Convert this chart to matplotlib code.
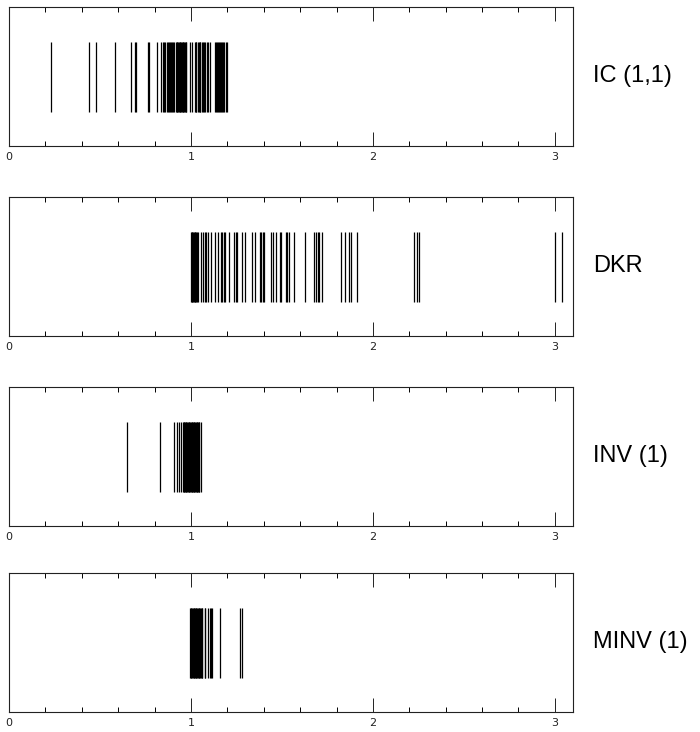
"""
Eigenvalue spectra of the preconditioned matrices, drawn as one strip per method.
"""

import matplotlib.pyplot as plt
from matplotlib.ticker import MultipleLocator

# eigenvalue positions
ic_vals = [0.232, 0.441, 0.476, 0.585, 0.671, 0.690, 0.700, 0.762, 0.770, 0.812,
           0.838, 0.845, 0.852, 0.858, 0.866, 0.872, 0.878, 0.884, 0.890, 0.896,
           0.902, 0.908, 0.918, 0.922, 0.926, 0.930, 0.934, 0.938, 0.942, 0.946,
           0.950, 0.954, 0.958, 0.962, 0.966, 0.970, 0.974, 0.994, 1.006, 1.020,
           1.025, 1.030, 1.036, 1.042, 1.047, 1.052, 1.058, 1.064, 1.070, 1.076,
           1.088, 1.096, 1.104, 1.130, 1.136, 1.142, 1.148, 1.154, 1.160, 1.166,
           1.172, 1.178, 1.184, 1.190, 1.196]
dkr_vals = [1.000, 1.004, 1.008, 1.012, 1.016, 1.020, 1.024, 1.028, 1.033, 1.038,
            1.054, 1.065, 1.079, 1.085, 1.091, 1.110, 1.134, 1.148, 1.165, 1.172,
            1.180, 1.189, 1.207, 1.238, 1.246, 1.253, 1.280, 1.295, 1.335, 1.354,
            1.378, 1.387, 1.394, 1.400, 1.440, 1.451, 1.470, 1.487, 1.496, 1.520,
            1.528, 1.537, 1.565, 1.627, 1.675, 1.687, 1.696, 1.706, 1.720, 1.822,
            1.845, 1.868, 1.877, 1.913, 2.225, 2.240, 2.256, 2.999, 3.041]
inv_vals = [0.649, 0.830, 0.909, 0.923, 0.933, 0.945, 0.955, 0.959, 0.963, 0.967,
            0.971, 0.975, 0.979, 0.983, 0.987, 0.991, 0.995, 0.999, 1.003, 1.007,
            1.011, 1.015, 1.019, 1.023, 1.027, 1.031, 1.035, 1.039, 1.043, 1.046,
            1.055]
minv_vals = [0.994, 0.998, 1.002, 1.006, 1.010, 1.014, 1.018, 1.022, 1.026, 1.030,
             1.034, 1.038, 1.042, 1.046, 1.050, 1.054, 1.058, 1.062, 1.075, 1.078,
             1.091, 1.106, 1.111, 1.115, 1.161, 1.270, 1.283]

panel_names = ['IC (1,1)', 'DKR', 'INV (1)', 'MINV (1)']
panel_vals = [ic_vals, dkr_vals, inv_vals, minv_vals]
tick_labels = ['0', '1', '2', '3']

fig = plt.figure(figsize=(7, 7.32), dpi=100)

bottoms = [0.8005, 0.541, 0.2814, 0.0273]
for bottom, name, vals in zip(bottoms, panel_names, panel_vals):
    ax = fig.add_axes([0.0129, bottom, 0.8057, 0.19])
    ax.vlines(vals, 0.245, 0.75, color='black', linewidth=0.9)
    ax.set_xlim(0, 3.1)
    ax.set_ylim(0, 1)

    # long ticks at integers, short ones every 0.2, pointing inwards top and bottom
    ax.set_xticks([0, 1, 2, 3])
    ax.set_xticklabels(tick_labels)
    ax.xaxis.set_minor_locator(MultipleLocator(0.2))
    ax.tick_params(axis='x', which='major', direction='in', top=True,
                   length=10, width=0.7, labelsize=8, pad=4, colors='#222222')
    ax.tick_params(axis='x', which='minor', direction='in', top=True,
                   length=3.5, width=0.7)
    ax.set_yticks([])
    for sp in ax.spines.values():
        sp.set_linewidth(0.8)
        sp.set_color('#222222')

    fig.text(0.847, bottom + 0.095, name, fontsize=17,
             family='Liberation Sans', va='center', ha='left')

plt.savefig('out.png', dpi=100)
plt.close()
